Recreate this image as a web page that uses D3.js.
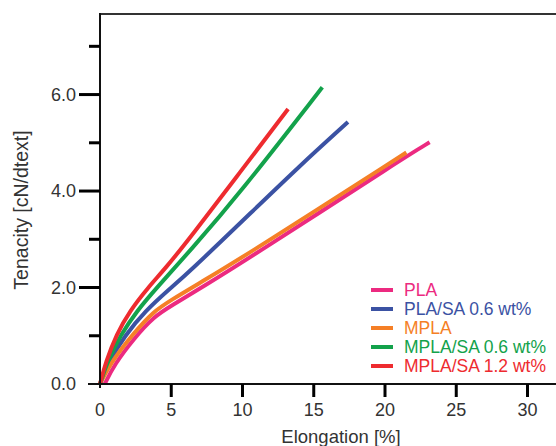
<!DOCTYPE html>
<html>
<head>
<meta charset="utf-8">
<script src="https://cdn.jsdelivr.net/npm/d3@7"></script>
<style>
  body { margin: 0; background: #fff; }
  text { font-family: "Liberation Sans", Arial, sans-serif; }
</style>
</head>
<body>
<div id="chart"></div>
<script>
// series names and colours
const seriesNames = ["PLA", "PLA/SA 0.6 wt%", "MPLA", "MPLA/SA 0.6 wt%", "MPLA/SA 1.2 wt%"];
const seriesColors = ["#ec2a80", "#3b52a3", "#f57f26", "#13a24b", "#ee2b2f"];

// curves: [elongation %, tenacity cN/dtext]
const pla = [[0.33,0],[1.0,0.4],[2.4,0.95],[3.8,1.40],[5.0,1.62],[7.3,2.03],[10.42,2.6],[21.5,4.72],[23.13,5.01]];
const plaSa = [[0,0],[0.6,0.45],[1.73,1.0],[3.2,1.52],[4.89,1.97],[6.32,2.34],[10,3.38],[13.93,4.5],[17.4,5.43]];
const mpla = [[0,0],[0.7,0.42],[2.34,1.05],[3.74,1.50],[4.92,1.73],[7.26,2.14],[10.42,2.7],[21.5,4.8]];
const mplaSa06 = [[0,0],[0.5,0.45],[1.45,1.02],[2.6,1.52],[3.96,1.99],[6.32,2.76],[9.83,3.96],[15.6,6.15]];
const mplaSa12 = [[0,0],[0.4,0.45],[1.15,1.03],[2.1,1.52],[3.37,2.0],[4.6,2.4],[6.32,3.03],[9.83,4.39],[13.2,5.70]];
const seriesData = [pla, plaSa, mpla, mplaSa06, mplaSa12];

const xTicks = [0, 5, 10, 15, 20, 25, 30];
const yMajor = [0, 2, 4, 6];
const yMinor = [1, 3, 5, 7];

const width = 556, height = 446;
const svg = d3.select("#chart").append("svg")
    .attr("width", width)
    .attr("height", height);

const x = d3.scaleLinear().domain([0, 32]).range([100, 556]);
const y = d3.scaleLinear().domain([0, 7.67]).range([384, 14]);

// curves - basis smooths out reading errors
const line = d3.line()
    .x(d => x(d[0]))
    .y(d => y(d[1]))
    .curve(d3.curveBasis);

svg.selectAll("path.curve")
   .data(seriesData)
   .enter()
   .append("path")
   .attr("class", "curve")
   .attr("d", line)
   .attr("fill", "none")
   .attr("stroke", (d, i) => seriesColors[i])
   .attr("stroke-width", 4);

// frame: top line, left spine, bottom axis line
svg.append("line").attr("x1", 100).attr("x2", 556).attr("y1", 14).attr("y2", 14)
   .attr("stroke", "#333").attr("stroke-width", 2);
svg.append("line").attr("x1", 100).attr("x2", 100).attr("y1", 13).attr("y2", 388)
   .attr("stroke", "#111").attr("stroke-width", 2);
svg.append("line").attr("x1", 88).attr("x2", 556).attr("y1", 384).attr("y2", 384)
   .attr("stroke", "#111").attr("stroke-width", 2);

// x ticks
svg.selectAll("line.xtick")
   .data(xTicks.filter(d => d > 0))
   .enter().append("line")
   .attr("x1", d => x(d)).attr("x2", d => x(d))
   .attr("y1", 384).attr("y2", 397)
   .attr("stroke", "#000").attr("stroke-width", 3);

svg.selectAll("text.xlab")
   .data(xTicks)
   .enter().append("text")
   .attr("x", d => x(d))
   .attr("y", 416)
   .attr("text-anchor", "middle")
   .attr("font-size", 18)
   .attr("fill", "#333")
   .text(d => d);

// y ticks
svg.selectAll("line.ymaj")
   .data(yMajor.filter(d => d > 0))
   .enter().append("line")
   .attr("x1", 79).attr("x2", 100)
   .attr("y1", d => y(d)).attr("y2", d => y(d))
   .attr("stroke", "#000").attr("stroke-width", 3);

svg.selectAll("line.ymin")
   .data(yMinor)
   .enter().append("line")
   .attr("x1", 89).attr("x2", 100)
   .attr("y1", d => y(d)).attr("y2", d => y(d))
   .attr("stroke", "#000").attr("stroke-width", 3);

svg.selectAll("text.ylab")
   .data(yMajor)
   .enter().append("text")
   .attr("x", 76)
   .attr("y", d => y(d) + 6)
   .attr("text-anchor", "end")
   .attr("font-size", 18)
   .attr("fill", "#333")
   .text(d => d.toFixed(1));

// axis titles
svg.append("text")
   .attr("x", 341)
   .attr("y", 443)
   .attr("text-anchor", "middle")
   .attr("font-size", 18.5)
   .attr("fill", "#333")
   .text("Elongation [%]");

svg.append("text")
   .attr("transform", "translate(28,210) rotate(-90)")
   .attr("text-anchor", "middle")
   .attr("font-size", 19.5)
   .attr("fill", "#333")
   .text("Tenacity [cN/dtext]");

// legend
const legend = svg.selectAll("g.leg")
   .data(seriesNames)
   .enter().append("g")
   .attr("transform", (d, i) => `translate(0, ${290 + i * 19})`);

legend.append("line")
   .attr("x1", 371).attr("x2", 393)
   .attr("stroke", (d, i) => seriesColors[i])
   .attr("stroke-width", 4);

legend.append("text")
   .attr("x", 404)
   .attr("y", 6.3)
   .attr("font-size", 17.5)
   .attr("fill", (d, i) => seriesColors[i])
   .text(d => d);
</script>
</body>
</html>
